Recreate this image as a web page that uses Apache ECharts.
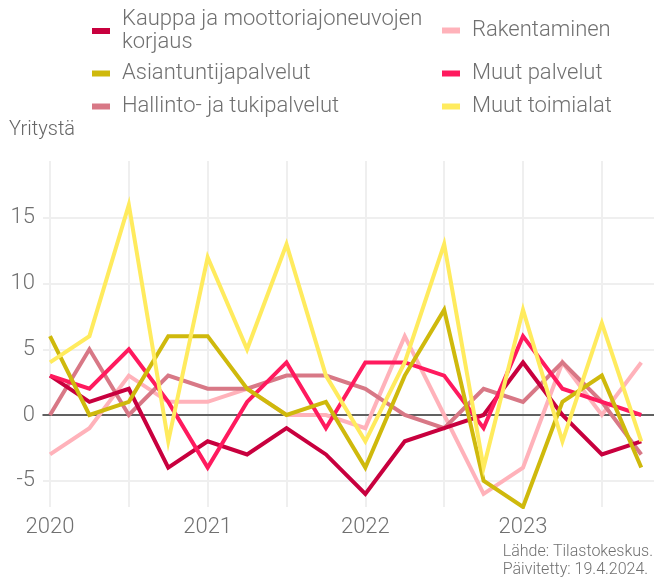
<!DOCTYPE html>
<html>
<head>
<meta charset="utf-8">
<script src="https://cdn.jsdelivr.net/npm/echarts@6/dist/echarts.min.js"></script>
<style>
  html, body { margin: 0; padding: 0; background: #fff; }
  #chart { width: 654px; height: 579px; }
</style>
</head>
<body>
<div id="chart"></div>
<script>
  // quarterly change, number of companies
  const quarters = ['2020Q1','2020Q2','2020Q3','2020Q4','2021Q1','2021Q2','2021Q3','2021Q4',
                    '2022Q1','2022Q2','2022Q3','2022Q4','2023Q1','2023Q2','2023Q3','2023Q4'];
  const kauppa        = [3, 1, 2, -4, -2, -3, -1, -3, -6, -2, -1, 0, 4, 0, -3, -2];
  const asiantuntija  = [6, 0, 1, 6, 6, 2, 0, 1, -4, 3, 8, -5, -7, 1, 3, -4];
  const hallinto      = [0, 5, 0, 3, 2, 2, 3, 3, 2, 0, -1, 2, 1, 4, 1, -3];
  const rakentaminen  = [-3, -1, 3, 1, 1, 2, 0, 0, -1, 6, 0, -6, -4, 4, 0, 4];
  const muutPalvelut  = [3, 2, 5, 1, -4, 1, 4, -1, 4, 4, 3, -1, 6, 2, 1, 0];
  const muutToimialat = [4, 6, 16, -2, 12, 5, 13, 3, -2, 4, 13, -4, 8, -2, 7, -2];

  const yearTicks = [2020, 2021, 2022, 2023];
  const halfYearTicks = [2020, 2020.5, 2021, 2021.5, 2022, 2022.5, 2023, 2023.5];
  const yTicks = [-5, 0, 5, 10, 15];

  const FONT = 'Roboto';
  const GREY = '#707070';

  function toPoints(values) {
    return values.map((v, i) => {
      let year = parseInt(quarters[i].slice(0, 4));
      let q = parseInt(quarters[i].slice(5));
      return [year + (q - 1) / 4, v];
    });
  }

  function makeSeries(name, values, color) {
    return {
      name: name,
      type: 'line',
      data: toPoints(values),
      color: color,
      showSymbol: false,
      symbol: 'none',
      lineStyle: { width: 4, color: color, join: 'miter', miterLimit: 10 },
      emphasis: { disabled: true }
    };
  }

  function makeLegend(name, left, top) {
    return {
      data: [name],
      left: left,
      top: top,
      padding: 0,
      icon: 'rect',
      itemWidth: 18,
      itemHeight: 6,
      selectedMode: false,
      textStyle: {
        fontFamily: FONT,
        fontWeight: 300,
        fontSize: 22,
        lineHeight: 23,
        color: GREY,
        padding: [0, 0, 0, 7]
      }
    };
  }

  const KAUPPA = 'Kauppa ja moottoriajoneuvojen\nkorjaus';

  let myChart = echarts.init(document.getElementById('chart'));
  let option = {
    backgroundColor: '#fff',
    animation: false,
    textStyle: { fontFamily: FONT },
    legend: [
      makeLegend(KAUPPA, 92, 8),
      makeLegend('Asiantuntijapalvelut', 92, 62),
      makeLegend('Hallinto- ja tukipalvelut', 92, 95),
      makeLegend('Rakentaminen', 442, 19),
      makeLegend('Muut palvelut', 442, 62),
      makeLegend('Muut toimialat', 442, 95)
    ],
    graphic: [
      {
        type: 'text',
        left: 9,
        top: 120,
        style: { text: 'Yritystä', fontFamily: FONT, fontWeight: 300, fontSize: 20, fill: '#666' }
      },
      {
        type: 'text',
        right: 1,
        top: 543,
        style: {
          text: 'Lähde: Tilastokeskus.\nPäivitetty: 19.4.2024.',
          fontFamily: FONT, fontWeight: 300, fontSize: 16, lineHeight: 18,
          align: 'right', fill: GREY
        }
      }
    ],
    grid: { left: 43, right: 0, top: 161, bottom: 72, containLabel: false },
    xAxis: {
      type: 'value',
      min: 2019.9556,
      max: 2023.8308,
      axisLine: { show: true, onZero: true, lineStyle: { color: '#333', width: 1.5 } },
      axisTick: { show: false, customValues: halfYearTicks },
      axisLabel: {
        customValues: yearTicks,
        fontFamily: FONT, fontWeight: 300, fontSize: 22, color: GREY, margin: 9,
        formatter: v => String(Math.round(v))
      },
      splitLine: { show: true, lineStyle: { color: '#efefef', width: 2 } }
    },
    yAxis: {
      type: 'value',
      min: -7,
      max: 19.33,
      axisLine: { show: false },
      axisTick: { show: false, customValues: yTicks },
      axisLabel: {
        customValues: yTicks,
        fontFamily: FONT, fontWeight: 300, fontSize: 22, color: GREY, margin: 8
      },
      splitLine: { show: true, lineStyle: { color: '#efefef', width: 2 } }
    },
    series: [
      makeSeries('Rakentaminen', rakentaminen, '#ffb2ba'),
      makeSeries('Hallinto- ja tukipalvelut', hallinto, '#d87886'),
      makeSeries(KAUPPA, kauppa, '#c8003e'),
      makeSeries('Muut palvelut', muutPalvelut, '#ff1a5e'),
      makeSeries('Asiantuntijapalvelut', asiantuntija, '#cfb90c'),
      makeSeries('Muut toimialat', muutToimialat, '#ffeb5e')
    ]
  };
  myChart.setOption(option);
</script>
</body>
</html>
